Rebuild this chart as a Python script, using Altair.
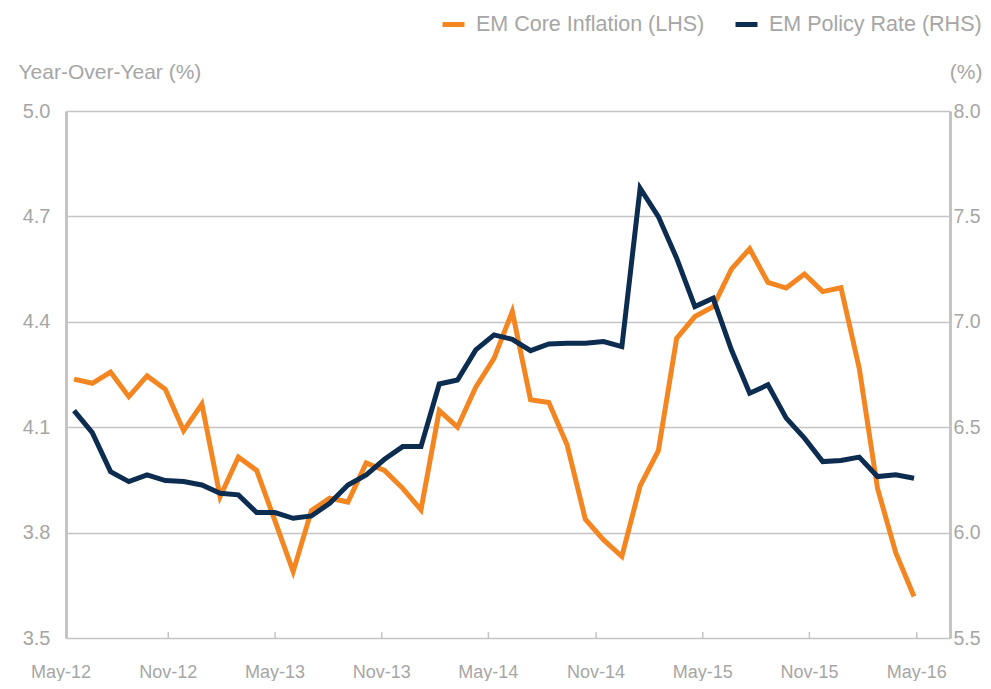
import altair as alt
import pandas as pd

# ---- data ----
idx = list(range(47))
core_inflation = [4.237, 4.225, 4.257, 4.187, 4.246, 4.208, 4.090, 4.166, 3.902, 4.015,
                  3.977, 3.834, 3.689, 3.863, 3.898, 3.887, 3.998, 3.977, 3.926, 3.865,
                  4.147, 4.100, 4.214, 4.296, 4.429, 4.178, 4.170, 4.050, 3.838, 3.779,
                  3.732, 3.933, 4.033, 4.353, 4.415, 4.443, 4.550, 4.608, 4.512, 4.496,
                  4.536, 4.486, 4.497, 4.268, 3.926, 3.743, 3.618]
policy_rate = [6.579, 6.474, 6.289, 6.242, 6.274, 6.247, 6.242, 6.226, 6.187, 6.179,
               6.095, 6.095, 6.068, 6.079, 6.139, 6.226, 6.274, 6.348, 6.408, 6.408,
               6.705, 6.724, 6.867, 6.938, 6.917, 6.863, 6.895, 6.898, 6.898, 6.906,
               6.882, 7.634, 7.499, 7.302, 7.072, 7.112, 6.867, 6.661, 6.701, 6.543,
               6.448, 6.337, 6.342, 6.358, 6.266, 6.274, 6.258]
series_names = ["EM Core Inflation (LHS)", "EM Policy Rate (RHS)"]
series_colors = ["#F48621", "#0C2C50"]

tick_labels = ["May-12", "Nov-12", "May-13", "Nov-13", "May-14", "Nov-14", "May-15", "Nov-15", "May-16"]
tick_pos = [-0.71, 5.16, 11.01, 16.85, 22.69, 28.59, 34.43, 40.27, 46.15]

left_ticks = [3.5, 3.8, 4.1, 4.4, 4.7, 5.0]
right_ticks = [5.5, 6.0, 6.5, 7.0, 7.5, 8.0]

GRAY = "#a6a6a6"
LINE_GRAY = "#c4c4c4"
FONT = "Liberation Sans"
W, H = 884, 527

df = pd.DataFrame({
    "idx": idx * 2,
    "value": core_inflation + policy_rate,
    "series": [series_names[0]] * len(idx) + [series_names[1]] * len(idx),
})
lab = pd.DataFrame({"pos": tick_pos, "label": tick_labels})

xscale = alt.Scale(domain=[-0.44, 47.97], nice=False, zero=False)
xenc = alt.X("idx:Q", scale=xscale, axis=None)
color = alt.Color("series:N",
                  scale=alt.Scale(domain=series_names, range=series_colors),
                  legend=alt.Legend(title=None, orient="none", legendX=374, legendY=-100,
                                    direction="horizontal", symbolType="stroke",
                                    symbolStrokeWidth=5, symbolSize=484,
                                    labelFont=FONT, labelFontSize=21.5, labelColor=GRAY,
                                    labelLimit=0, labelOffset=9, columnPadding=20))

base = alt.Chart(df)

core_line = base.transform_filter(alt.datum.series == series_names[0]).mark_line(
    strokeWidth=5, strokeJoin="miter").encode(
    x=xenc,
    y=alt.Y("value:Q", scale=alt.Scale(domain=[3.5, 5.0], nice=False, zero=False),
            axis=alt.Axis(orient="left", values=left_ticks, format=".1f", title="Year-Over-Year (%)",
                          titleAngle=0, titleAlign="left", titleBaseline="middle",
                          titleX=-48, titleY=-39, titleFont=FONT, titleFontSize=21,
                          titleFontWeight="normal", titleColor=GRAY,
                          labelFont=FONT, labelFontSize=20, labelColor=GRAY, labelPadding=16,
                          ticks=False, grid=True, gridColor=LINE_GRAY, gridWidth=1.5,
                          domain=True, domainColor=LINE_GRAY, domainWidth=3)),
    color=color,
)

policy_line = base.transform_filter(alt.datum.series == series_names[1]).mark_line(
    strokeWidth=5, strokeJoin="miter").encode(
    x=xenc,
    y=alt.Y("value:Q", scale=alt.Scale(domain=[5.5, 8.0], nice=False, zero=False),
            axis=alt.Axis(orient="right", values=right_ticks, format=".1f", title="(%)",
                          titleAngle=0, titleAlign="right", titleBaseline="middle",
                          titleX=32, titleY=-39, titleFont=FONT, titleFontSize=21,
                          titleFontWeight="normal", titleColor=GRAY,
                          labelFont=FONT, labelFontSize=19.5, labelColor=GRAY, labelPadding=3,
                          ticks=False, grid=False,
                          domain=True, domainColor=LINE_GRAY, domainWidth=3)),
    color=color,
)

ticks = alt.Chart(lab).transform_filter(alt.datum.pos > 0).mark_rule(
    color=LINE_GRAY, strokeWidth=1.5).encode(
    x=alt.X("pos:Q", scale=xscale, axis=None),
    y=alt.value(H - 6), y2=alt.value(H),
)

labels = alt.Chart(lab).mark_text(font=FONT, fontSize=18, color=GRAY,
                                  align="center", baseline="alphabetic").encode(
    x=alt.X("pos:Q", scale=xscale, axis=None),
    y=alt.value(H + 40),
    text="label:N",
)

chart = alt.layer(core_line, policy_line, ticks, labels).resolve_scale(
    y="independent"
).properties(
    width=W, height=H,
    autosize=alt.AutoSizeParams(type="none"),
    padding={"left": 58, "top": 103, "right": 33, "bottom": 43},
).configure_view(stroke=None).configure_line(strokeCap="butt")

chart.save("out.html", embed_options={"renderer": "svg", "actions": False})
